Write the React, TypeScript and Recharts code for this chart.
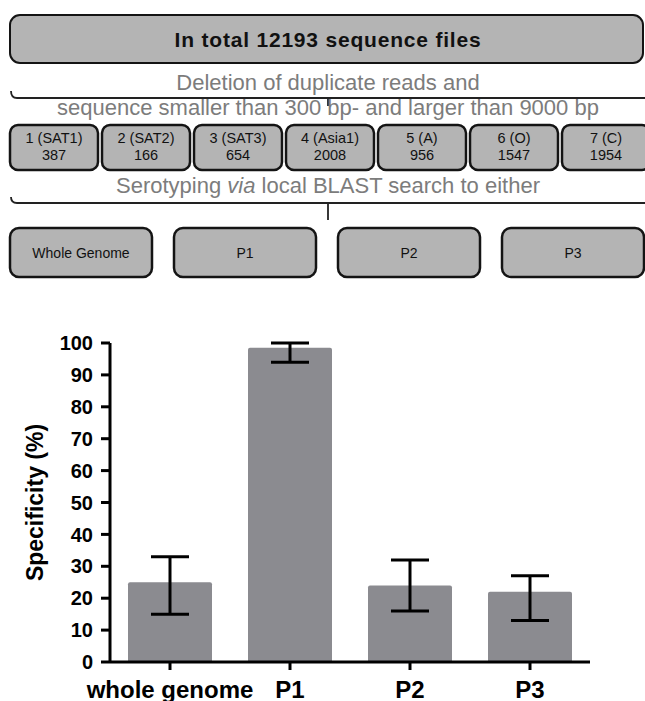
import { BarChart, Bar, XAxis, YAxis, ErrorBar } from "recharts";

// flow of sequence processing
const totalLabel = "In total 12193 sequence files";
const filterLines = [
  "Deletion of duplicate reads and",
  "sequence smaller than 300 bp- and larger than 9000 bp",
];
const serotypes = ["1 (SAT1)", "2 (SAT2)", "3 (SAT3)", "4 (Asia1)", "5 (A)", "6 (O)", "7 (C)"];
const serotypeCounts = [387, 166, 654, 2008, 956, 1547, 1954];
const targets = ["Whole Genome", "P1", "P2", "P3"];

// specificity per search target
const categories = ["whole genome", "P1", "P2", "P3"];
const specificity = [25, 98.5, 24, 22];
const lowerBound = [15, 94, 16, 13];
const upperBound = [33, 100, 32, 27];
const yTicks = [0, 10, 20, 30, 40, 50, 60, 70, 80, 90, 100];

const chartData = categories.map((name, i) => ({
  name,
  value: specificity[i],
  err: [specificity[i] - lowerBound[i], upperBound[i] - specificity[i]],
}));

const FONT = "'Liberation Sans', Arial, sans-serif";
const BOX_FILL = "#b4b4b4";
const BOX_STROKE = "#141414";
const GREY_TEXT = "#7c7c7c";

function FlowChart() {
  return (
    <svg width={645} height={290} style={{ display: "block", fontFamily: FONT }}>
      <rect x={10} y={15} width={633} height={48} rx={10} fill={BOX_FILL} stroke={BOX_STROKE} strokeWidth={2} />
      <text x={328} y={47} textAnchor="middle" fontSize={21} fontWeight="bold" letterSpacing={0.8} fill="#111">
        {totalLabel}
      </text>

      <text x={328} y={90} textAnchor="middle" fontSize={22} fill={GREY_TEXT}>
        {filterLines[0]}
      </text>
      <path d="M11 91 Q11 98 17 98 H645" fill="none" stroke="#222" strokeWidth={1.8} />
      <path d="M328 98 V106" stroke="#222" strokeWidth={1.8} />
      <text x={328} y={115} textAnchor="middle" fontSize={22} fill={GREY_TEXT}>
        {filterLines[1]}
      </text>

      {serotypes.map((s, i) => {
        const x = 10 + i * 92;
        return (
          <g key={s}>
            <rect x={x} y={125} width={88} height={45} rx={8} fill={BOX_FILL} stroke={BOX_STROKE} strokeWidth={2.5} />
            <text x={x + 44} y={143} textAnchor="middle" fontSize={14.5} fill="#111">
              {s}
            </text>
            <text x={x + 44} y={160} textAnchor="middle" fontSize={14.5} fill="#111">
              {serotypeCounts[i]}
            </text>
          </g>
        );
      })}

      <text x={328} y={193} textAnchor="middle" fontSize={22} fill={GREY_TEXT}>
        Serotyping <tspan fontStyle="italic">via</tspan> local BLAST search to either
      </text>
      <path d="M11 197 Q11 203 17 203 H645" fill="none" stroke="#222" strokeWidth={1.8} />
      <path d="M328 203 V220" stroke="#222" strokeWidth={1.8} />

      {targets.map((t, i) => {
        const x = 10 + i * 164;
        return (
          <g key={t}>
            <rect x={x} y={228} width={142} height={49} rx={9} fill={BOX_FILL} stroke={BOX_STROKE} strokeWidth={2.5} />
            <text x={x + 71} y={258} textAnchor="middle" fontSize={14} fill="#111">
              {t}
            </text>
          </g>
        );
      })}
    </svg>
  );
}

function YLabel({ viewBox }: { viewBox?: { x: number; y: number; width: number; height: number } }) {
  if (!viewBox) return null;
  const cy = viewBox.y + viewBox.height / 2;
  return (
    <text
      x={35}
      y={cy}
      transform={`rotate(-90, 35, ${cy})`}
      textAnchor="middle"
      dominantBaseline="central"
      fontSize={23}
      fontWeight="bold"
      fontFamily={FONT}
      fill="#000"
    >
      Specificity (%)
    </text>
  );
}

export default function App() {
  return (
    <div style={{ position: "absolute", top: 0, left: 0, width: 645, height: 701, background: "#fff" }}>
      <FlowChart />
      <BarChart
        width={645}
        height={411}
        data={chartData}
        margin={{ top: 53, right: 55, bottom: 0, left: 0 }}
        barCategoryGap="15%"
      >
        <XAxis
          dataKey="name"
          height={39}
          tickSize={8}
          tickMargin={11}
          axisLine={{ stroke: "#000", strokeWidth: 3 }}
          tickLine={{ stroke: "#000", strokeWidth: 3 }}
          tick={{ fill: "#000", fontSize: 24, fontWeight: "bold", fontFamily: FONT }}
          interval={0}
        />
        <YAxis
          width={110}
          domain={[0, 100]}
          ticks={yTicks}
          interval={0}
          tickSize={9}
          tickMargin={8}
          axisLine={{ stroke: "#000", strokeWidth: 3 }}
          tickLine={{ stroke: "#000", strokeWidth: 3 }}
          tick={{ fill: "#000", fontSize: 20, fontWeight: "bold", fontFamily: FONT }}
          label={<YLabel />}
        />
        <Bar dataKey="value" fill="#8b8b90" radius={[2, 2, 0, 0]} isAnimationActive={false}>
          <ErrorBar dataKey="err" width={19} stroke="#000" strokeWidth={3} isAnimationActive={false} />
        </Bar>
      </BarChart>
    </div>
  );
}
